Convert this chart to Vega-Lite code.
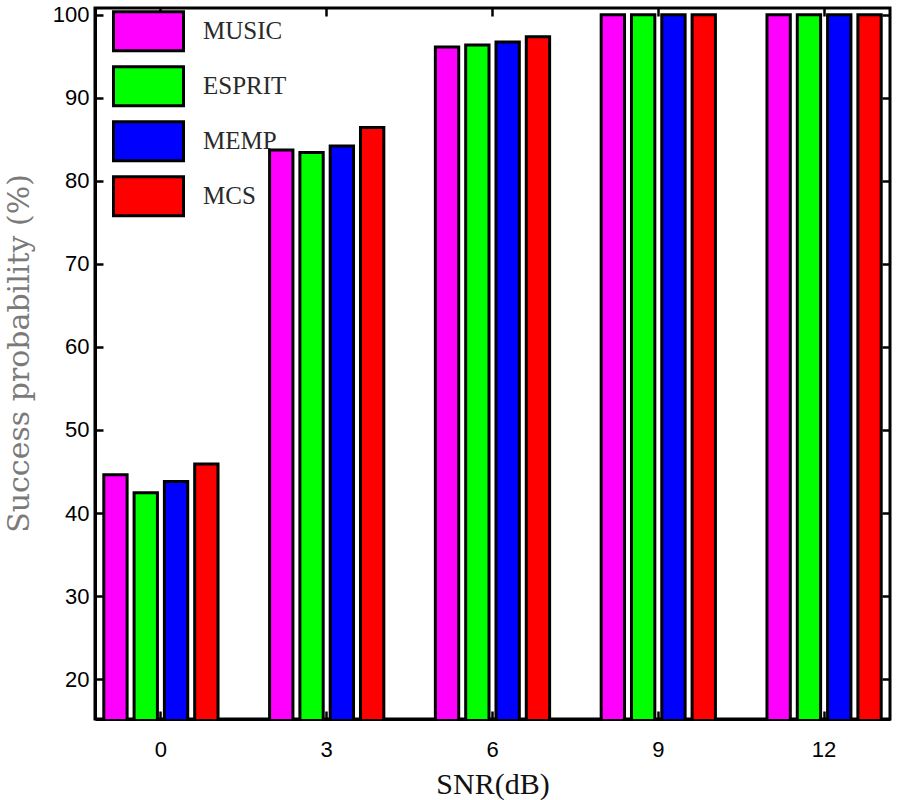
{
  "$schema": "https://vega.github.io/schema/vega-lite/v6.json",
  "autosize": "none",
  "padding": {"left": 95, "top": 8, "right": 10, "bottom": 81},
  "width": 795,
  "height": 711,
  "background": "white",
  "config": {
    "view": {"stroke": "black", "strokeWidth": 3},
    "axis": {
      "domainColor": "black",
      "domainWidth": 3,
      "tickColor": "black",
      "tickWidth": 2.5,
      "labelFont": "Liberation Sans",
      "labelFontSize": 22,
      "labelColor": "black",
      "grid": false,
      "zindex": 1
    }
  },
  "data": {
    "values": [
      {"snr": "0", "method": "MUSIC", "p": 44.6},
      {"snr": "0", "method": "ESPRIT", "p": 42.45},
      {"snr": "0", "method": "MEMP", "p": 43.8},
      {"snr": "0", "method": "MCS", "p": 45.9},
      {"snr": "3", "method": "MUSIC", "p": 83.7},
      {"snr": "3", "method": "ESPRIT", "p": 83.4},
      {"snr": "3", "method": "MEMP", "p": 84.2},
      {"snr": "3", "method": "MCS", "p": 86.4},
      {"snr": "6", "method": "MUSIC", "p": 96.1},
      {"snr": "6", "method": "ESPRIT", "p": 96.35},
      {"snr": "6", "method": "MEMP", "p": 96.7},
      {"snr": "6", "method": "MCS", "p": 97.35},
      {"snr": "9", "method": "MUSIC", "p": 100},
      {"snr": "9", "method": "ESPRIT", "p": 100},
      {"snr": "9", "method": "MEMP", "p": 100},
      {"snr": "9", "method": "MCS", "p": 100},
      {"snr": "12", "method": "MUSIC", "p": 100},
      {"snr": "12", "method": "ESPRIT", "p": 100},
      {"snr": "12", "method": "MEMP", "p": 100},
      {"snr": "12", "method": "MCS", "p": 100}
    ]
  },
  "layer": [
    {
      "mark": {"type": "bar", "stroke": "black", "strokeWidth": 3, "clip": true},
      "encoding": {
        "x": {
          "field": "snr", "type": "nominal", "sort": ["0", "3", "6", "9", "12"],
          "scale": {"paddingInner": 0.311, "paddingOuter": 0.053},
          "axis": {
            "orient": "bottom", "title": "SNR(dB)", "labelAngle": 0,
            "tickSize": -8, "labelPadding": 28,
            "titleFont": "Liberation Serif", "titleFontSize": 30, "titleFontWeight": "normal",
            "titleColor": "#111", "titlePadding": 9
          }
        },
        "xOffset": {
          "field": "method", "type": "nominal", "sort": ["MUSIC", "ESPRIT", "MEMP", "MCS"],
          "scale": {"paddingInner": 0.23, "paddingOuter": 0}
        },
        "y": {
          "field": "p", "type": "quantitative",
          "scale": {"domain": [15.2, 100.8], "zero": false, "nice": false},
          "axis": {
            "orient": "left", "title": "Success probability (%)",
            "values": [20, 30, 40, 50, 60, 70, 80, 90, 100],
            "tickSize": -8, "labelPadding": 14,
            "titleFont": "DejaVu Serif", "titleFontSize": 30, "titleFontWeight": "normal",
            "titleColor": "#7a7a7a", "titlePadding": 18, "titleY": 345
          }
        },
        "color": {
          "field": "method", "type": "nominal",
          "sort": ["MUSIC", "ESPRIT", "MEMP", "MCS"],
          "scale": {"domain": ["MUSIC", "ESPRIT", "MEMP", "MCS"], "range": ["#ff00ff", "#00ff00", "#0000ff", "#ff0000"]},
          "legend": {
            "title": null,
            "orient": "none",
            "legendX": 17,
            "legendY": -3,
            "padding": 0,
            "symbolType": "M-1,-0.557L1,-0.557L1,0.557L-1,0.557Z",
            "symbolSize": 4900,
            "symbolStrokeColor": "black",
            "symbolStrokeWidth": 3,
            "symbolOpacity": 1,
            "symbolFillColor": null,
            "clipHeight": 52.5,
            "rowPadding": 2,
            "labelFont": "Liberation Serif",
            "labelFontSize": 25,
            "labelColor": "#2a2a2a",
            "labelOffset": 18
          }
        }
      }
    },
    {
      "mark": {"type": "bar", "opacity": 0},
      "encoding": {
        "x": {
          "field": "snr", "type": "nominal", "sort": ["0", "3", "6", "9", "12"],
          "axis": {"orient": "top", "title": null, "labels": false, "tickSize": -8, "domain": false}
        },
        "xOffset": {"field": "method", "type": "nominal", "sort": ["MUSIC", "ESPRIT", "MEMP", "MCS"]},
        "y": {
          "field": "p", "type": "quantitative",
          "axis": {"orient": "right", "title": null, "labels": false, "tickSize": -8, "domain": false,
                   "values": [20, 30, 40, 50, 60, 70, 80, 90, 100]}
        }
      }
    }
  ],
  "resolve": {"axis": {"x": "independent", "y": "independent"}}
}
